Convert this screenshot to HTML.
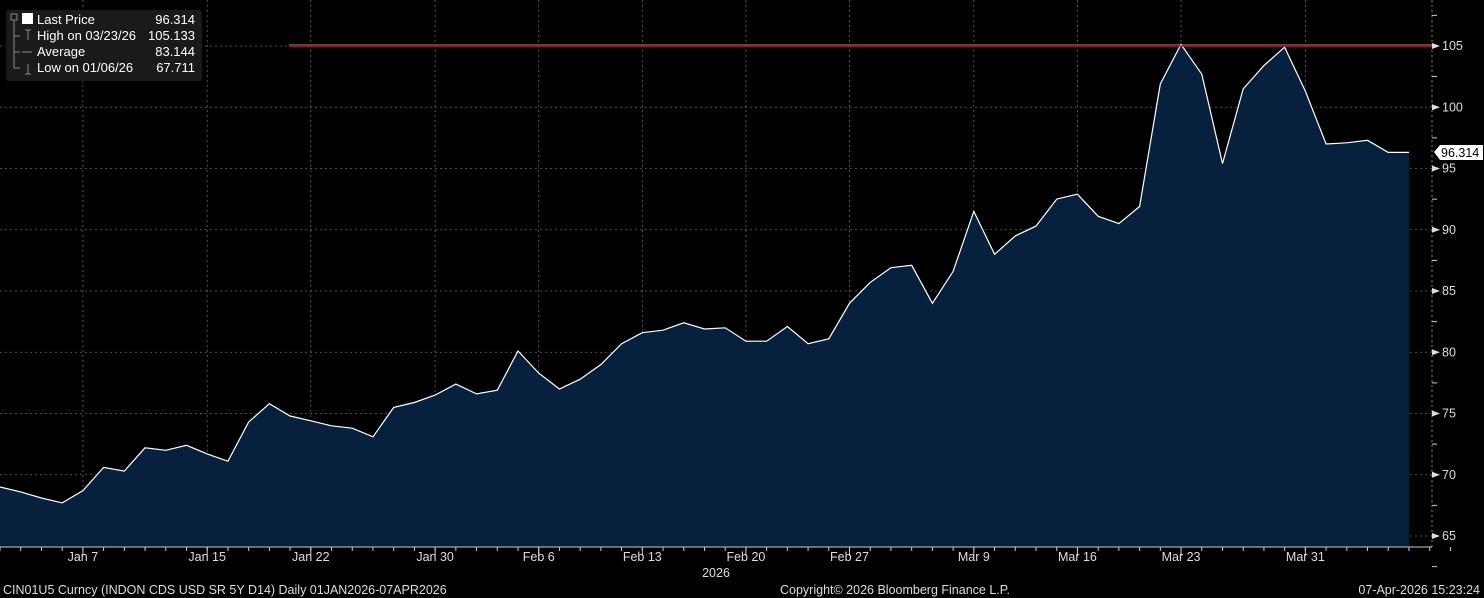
<!DOCTYPE html>
<html><head><meta charset="utf-8"><style>
html,body{margin:0;padding:0;background:#000;}
svg{display:block;font-family:"Liberation Sans","DejaVu Sans",sans-serif;}
</style></head><body>
<svg id="s" width="1484" height="598" xmlns="http://www.w3.org/2000/svg">
<rect width="1484" height="598" fill="#000"/>
<g id="grid"></g>
<path id="area" fill="#07203d"/>
<path id="line" fill="none" stroke="#fff" stroke-width="1.2"/>
<line x1="289" y1="46" x2="1432" y2="46" stroke="#c8102e" stroke-width="1.5"/>
<line x1="289" y1="44.8" x2="1432" y2="44.8" stroke="#fff" stroke-width="0.6" opacity="0.6"/>
<g id="axes" fill="#ddd" font-size="12.5"></g>
<rect x="6" y="10" width="196" height="71" rx="3" fill="#1a1a1a"/>
<g fill="#fff" font-size="13">
<rect x="22" y="13" width="11" height="11" fill="#fff"/>
<text x="37" y="24">Last Price</text><text x="195" y="24" text-anchor="end">96.314</text>
<text x="37" y="40">High on 03/23/26</text><text x="195" y="40" text-anchor="end">105.133</text>
<text x="37" y="56">Average</text><text x="195" y="56" text-anchor="end">83.144</text>
<text x="37" y="72">Low on 01/06/26</text><text x="195" y="72" text-anchor="end">67.711</text>
</g>
<g stroke="#888" fill="none" stroke-width="1">
<rect x="11" y="14" width="6" height="6"/><path d="M14 21V68H20M14 36H20M14 52H20M22 52h10M25 30h6M28 30v10M25 74h6M28 64v10"/>
</g>
<polygon points="1434,152 1440,145 1483,145 1483,160 1440,160" fill="#fff"/>
<text x="1441" y="157" font-size="12.5" fill="#000">96.314</text>
<g fill="#ddd" font-size="12.5">
<text x="716" y="577" text-anchor="middle">2026</text>
<text x="3" y="594">CIN01U5 Curncy (INDON CDS USD SR 5Y D14) Daily 01JAN2026-07APR2026</text>
<text x="780" y="594">Copyright© 2026 Bloomberg Finance L.P.</text>
<text x="1480" y="594" text-anchor="end">07-Apr-2026 15:23:24</text>
</g>
</svg>
<script>
var v=[69.0,68.6,68.1,67.7,68.7,70.6,70.3,72.2,72.0,72.4,71.7,71.1,74.3,75.8,74.8,74.4,74.0,73.8,73.1,75.5,75.9,76.5,77.4,76.6,76.9,80.1,78.3,77.0,77.8,79.0,80.7,81.6,81.8,82.4,81.9,82.0,80.9,80.9,82.1,80.7,81.1,84.0,85.7,86.9,87.1,84.0,86.6,91.5,88.0,89.5,90.3,92.5,92.9,91.1,90.5,91.9,101.9,105.13,102.7,95.4,101.5,103.4,104.9,101.3,97.0,97.1,97.3,96.314,96.314];
function X(i){return i*20.72}function Y(p){return 536-(p-65)*12.25}
var d="";v.forEach(function(p,i){d+=(i?"L":"M")+X(i).toFixed(1)+" "+Y(p).toFixed(1)});
document.getElementById("line").setAttribute("d",d);
document.getElementById("area").setAttribute("d",d+"L"+X(68)+" 547L0 547Z");
var g="",a="";
for(var p=65;p<=105;p+=5){var y=Y(p);g+='<line x1="0" x2="1432" y1="'+y+'" y2="'+y+'" stroke="#666" stroke-dasharray="2,3" stroke-width="0.8"/>';
a+='<polygon points="1432,'+(y-3)+' 1440,'+y+' 1432,'+(y+3)+'" fill="#ddd"/><text x="1442" y="'+(y+4)+'">'+p+'</text>';}
for(var p=62.5;p<=107.5;p+=5){var y=Y(p);a+='<line x1="1432" x2="1437" y1="'+y+'" y2="'+y+'" stroke="#ccc"/>';}
var L=[[4,"Jan 7"],[10,"Jan 15"],[15,"Jan 22"],[21,"Jan 30"],[26,"Feb 6"],[31,"Feb 13"],[36,"Feb 20"],[41,"Feb 27"],[47,"Mar 9"],[52,"Mar 16"],[57,"Mar 23"],[63,"Mar 31"]];
L.forEach(function(l){var x=X(l[0]);g+='<line x1="'+x+'" x2="'+x+'" y1="0" y2="547" stroke="#666" stroke-dasharray="2,3" stroke-width="0.8"/>';
a+='<line x1="'+x+'" x2="'+x+'" y1="547" y2="556" stroke="#ccc"/><text x="'+x+'" y="561" text-anchor="middle">'+l[1]+'</text>';});
for(var i=0;i<=70;i++){a+='<line x1="'+X(i)+'" x2="'+X(i)+'" y1="547" y2="551" stroke="#ccc"/>';}
g+='<line x1="1432" x2="1432" y1="0" y2="547" stroke="#888" stroke-dasharray="2,3"/>';
a+='<line x1="0" x2="1432" y1="547" y2="547" stroke="#ccc"/>';
document.getElementById("grid").innerHTML=g;document.getElementById("axes").innerHTML=a;
</script>
</body></html>
